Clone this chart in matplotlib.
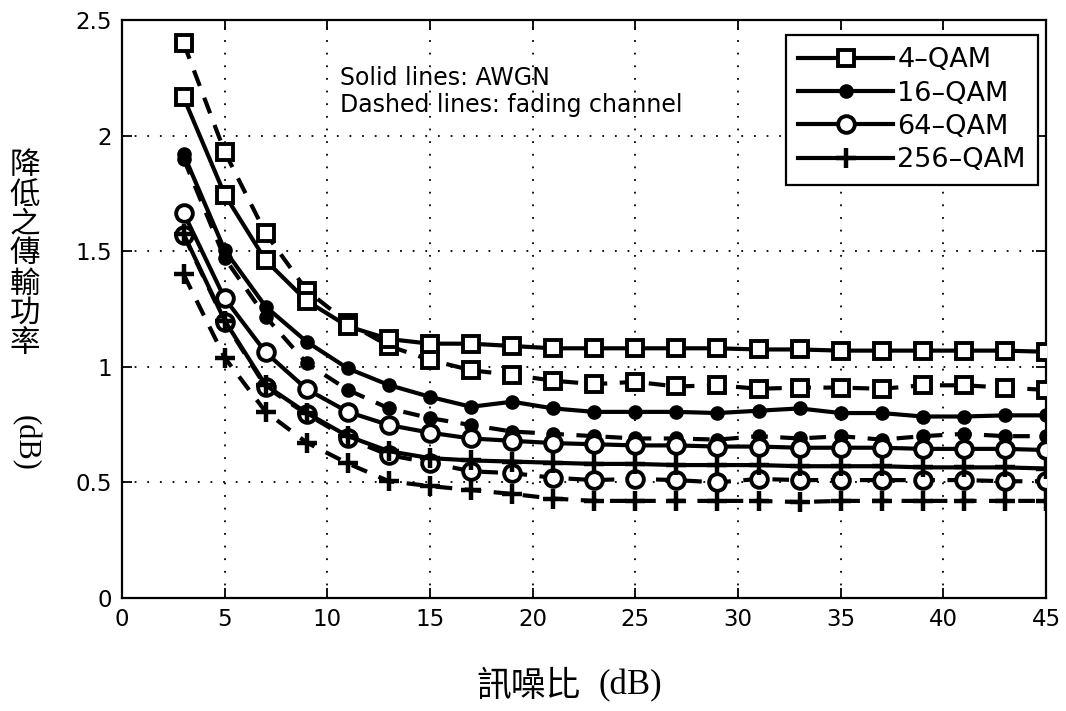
import matplotlib
matplotlib.use('Agg')
import matplotlib.pyplot as plt
from matplotlib.lines import Line2D

# ---------------- data ----------------
snr_db = [3, 5, 7, 9, 11, 13, 15, 17, 19, 21, 23, 25, 27, 29, 31, 33, 35, 37, 39, 41, 43, 45]

qam4_awgn = [2.165, 1.745, 1.46, 1.285, 1.175, 1.12, 1.10, 1.10, 1.09, 1.08, 1.08, 1.08,
             1.08, 1.08, 1.075, 1.075, 1.07, 1.07, 1.07, 1.07, 1.07, 1.065]
qam4_fading = [2.40, 1.93, 1.577, 1.33, 1.19, 1.09, 1.03, 0.985, 0.965, 0.94, 0.925, 0.935,
               0.915, 0.92, 0.905, 0.91, 0.91, 0.905, 0.92, 0.92, 0.91, 0.90]
qam16_awgn = [1.92, 1.505, 1.26, 1.108, 0.993, 0.921, 0.87, 0.827, 0.849, 0.82, 0.805, 0.805,
              0.805, 0.80, 0.81, 0.82, 0.80, 0.80, 0.785, 0.785, 0.79, 0.79]
qam16_fading = [1.90, 1.47, 1.216, 1.015, 0.90, 0.82, 0.778, 0.748, 0.72, 0.71, 0.70, 0.69,
                0.69, 0.685, 0.70, 0.69, 0.70, 0.685, 0.70, 0.71, 0.70, 0.70]
qam64_awgn = [1.666, 1.296, 1.062, 0.903, 0.805, 0.748, 0.715, 0.69, 0.68, 0.67, 0.665, 0.66,
              0.66, 0.655, 0.655, 0.65, 0.65, 0.65, 0.645, 0.645, 0.645, 0.64]
qam64_fading = [1.57, 1.195, 0.913, 0.795, 0.69, 0.618, 0.585, 0.548, 0.54, 0.52, 0.51, 0.515,
                0.51, 0.50, 0.515, 0.51, 0.51, 0.51, 0.51, 0.51, 0.505, 0.505]
qam256_awgn = [1.575, 1.20, 0.92, 0.80, 0.70, 0.635, 0.605, 0.595, 0.59, 0.585, 0.58, 0.58,
               0.575, 0.575, 0.575, 0.57, 0.57, 0.57, 0.565, 0.565, 0.565, 0.56]
qam256_fading = [1.40, 1.04, 0.805, 0.672, 0.582, 0.505, 0.484, 0.467, 0.45, 0.43, 0.42, 0.42,
                 0.42, 0.42, 0.42, 0.415, 0.42, 0.42, 0.42, 0.42, 0.42, 0.42]

labels = ['4\u2013QAM', '16\u2013QAM', '64\u2013QAM', '256\u2013QAM']
x_ticks = [0, 5, 10, 15, 20, 25, 30, 35, 40, 45]
y_ticks = [0, 0.5, 1, 1.5, 2, 2.5]
y_tick_labels = ['0', '0.5', '1', '1.5', '2', '2.5']
ylabel_chars = ['降', '低', '之', '傳', '輸', '功', '率']
xlabel_cjk = '訊噪比'
unit_text = '(dB)'
note_lines = ['Solid lines: AWGN', 'Dashed lines: fading channel']

# ---------------- figure ----------------
W, H = 1066, 711
fig = plt.figure(figsize=(W / 100, H / 100), dpi=100)
fig.patch.set_facecolor('white')
ax = fig.add_axes([122 / W, 1 - 598 / H, (1046 - 122) / W, (598 - 20) / H])

series = [
    (qam4_awgn, qam4_fading, dict(marker='s', ms=11, mfc='white', mew=2.8)),
    (qam16_awgn, qam16_fading, dict(marker='o', ms=9, mfc='black', mew=1.5)),
    (qam64_awgn, qam64_fading, dict(marker='o', ms=12, mfc='white', mew=2.8)),
    (qam256_awgn, qam256_fading, dict(marker='+', ms=14, mfc='black', mew=3.2)),
]

LW = 3.0
dash = (0, (4, 3))
handles = []
for (awgn, fad, mk), lab in zip(series, labels):
    ax.plot(snr_db, fad, color='black', lw=LW, linestyle=dash, mec='black', zorder=3, **mk)
    ax.plot(snr_db, awgn, color='black', lw=LW, linestyle='-', mec='black', zorder=4, **mk)
    handles.append(Line2D([], [], color='black', lw=LW, linestyle='-', mec='black', **mk))

ax.set_xlim(0, 45)
ax.set_ylim(0, 2.5)
ax.set_xticks(x_ticks)
ax.set_xticklabels([str(t) for t in x_ticks])
ax.set_yticks(y_ticks)
ax.set_yticklabels(y_tick_labels)
ax.grid(True, color='black', linestyle=(0, (1, 6)), lw=1.3)
ax.set_axisbelow(True)
for s in ax.spines.values():
    s.set_linewidth(1.6)
ax.tick_params(direction='in', top=True, right=True, length=7, width=1.3,
               labelsize=16.5, pad=7)
for lab in ax.get_xticklabels() + ax.get_yticklabels():
    lab.set_fontfamily('DejaVu Sans')

leg = ax.legend(handles, labels, loc='upper right',
                bbox_to_anchor=(1038 / W, 1 - 35 / H), bbox_transform=fig.transFigure,
                borderaxespad=0, fancybox=False, framealpha=1, edgecolor='black',
                prop={'family': 'DejaVu Sans', 'size': 19.5},
                handlelength=3.5, handletextpad=0.15, labelspacing=0.27,
                borderpad=0.45, handleheight=0.7)
leg.get_frame().set_linewidth(1.6)

# annotation
fig.text(340 / W, 1 - 78 / H, note_lines[0], ha='left', va='center',
         fontsize=17, family='DejaVu Sans')
fig.text(340 / W, 1 - 105 / H, note_lines[1], ha='left', va='center',
         fontsize=17, family='DejaVu Sans')

# y label: stacked CJK characters + rotated unit
y_centers = [166, 196, 225, 254, 284, 313, 344]
for ch, yc in zip(ylabel_chars, y_centers):
    fig.text(25 / W, 1 - yc / H, ch, ha='center', va='center',
             fontsize=22, family='Noto Sans CJK TC')
fig.text(25 / W, 1 - 443 / H, unit_text, ha='center', va='center', rotation=-90,
         fontsize=22, family='Liberation Serif')

# x label
fig.text(528 / W, 1 - 686 / H, xlabel_cjk, ha='center', va='center',
         fontsize=25, family='Noto Sans CJK TC')
fig.text(630 / W, 1 - 686 / H, unit_text, ha='center', va='center',
         fontsize=25, family='Liberation Serif')

fig.savefig('out.png', dpi=100)
